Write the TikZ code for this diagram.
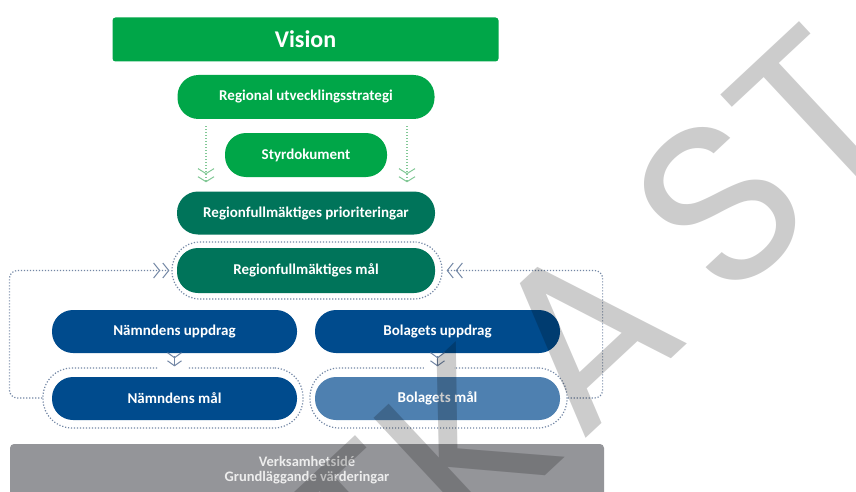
\documentclass[tikz,border=0pt]{standalone}
\usepackage{fontspec}
\setmainfont{Carlito}
\newfontfamily\wmfont{Poppins}
\usetikzlibrary{arrows.meta,fit}

\definecolor{visiongreen}{RGB}{0,166,72}
\definecolor{rfteal}{RGB}{0,116,90}
\definecolor{navy}{RGB}{0,75,141}
\definecolor{lightnavy}{RGB}{78,128,176}
\definecolor{basegray}{RGB}{148,149,153}
\definecolor{dotblue}{RGB}{115,135,165}
\definecolor{dotgreen}{RGB}{130,200,150}

\begin{document}
\begin{tikzpicture}[x=1pt,y=-1pt,
  pill/.style={rounded corners=21pt, minimum height=43pt, inner sep=0pt,
    text=white, font=\bfseries\fontsize{15}{17}\selectfont},
  outline/.style={draw=dotblue, line width=1.2pt, dash pattern=on 1.2pt off 1.8pt,
    rounded corners=28pt, inner sep=0pt},
  loopline/.style={draw=dotblue, line width=1.2pt, dash pattern=on 1.2pt off 1.8pt,
    rounded corners=8pt,
    -{Straight Barb[length=6pt,width=15pt,line width=1pt,sep=2pt] Straight Barb[length=6pt,width=15pt,line width=1pt]}},
  greenline/.style={draw=dotgreen, line width=1.2pt, dash pattern=on 1.2pt off 1.8pt,
    -{Straight Barb[length=5pt,width=16pt,line width=1pt,sep=2pt] Straight Barb[length=5pt,width=16pt,line width=1pt]}},
  downchev/.style={draw=dotblue, line width=1pt,
    -{Straight Barb[length=5pt,width=14pt,sep=2pt] Straight Barb[length=5pt,width=14pt]}}]

  \useasboundingbox[fill=white] (0,0) rectangle (856,492);

  % Vision
  \node[fill=visiongreen, rounded corners=3pt, minimum width=386pt, minimum height=44pt,
    inner sep=0pt, text=white, font=\bfseries\fontsize{24}{26}\selectfont] (vision) at (305.5,39.5) {Vision};

  % Strategy and documents
  \node[pill, fill=visiongreen, minimum width=257pt, minimum height=44pt] (rus) at (306,97) {Regional utvecklingsstrategi};
  \node[pill, fill=visiongreen, minimum width=162pt, minimum height=44pt] (styr) at (306,155) {Styrdokument};

  % Regionfullmäktige
  \node[pill, fill=rfteal, minimum width=258pt] (rfp) at (306,213) {Regionfullmäktiges prioriteringar};
  \node[pill, fill=rfteal, minimum width=258pt, minimum height=45pt] (rfm) at (306,270.5) {Regionfullmäktiges mål};
  \node[outline, minimum width=270pt, minimum height=57pt] (rfmo) at (307,270.5) {};

  % Nämnd and bolag
  \node[pill, fill=navy, minimum width=245pt] (nu) at (174.5,331.5) {Nämndens uppdrag};
  \node[pill, fill=navy, minimum width=245pt] (bu) at (437.5,331.5) {Bolagets uppdrag};
  \node[pill, fill=navy, minimum width=245pt] (nm) at (174.5,398.5) {Nämndens mål};
  \node[pill, fill=lightnavy, minimum width=245pt] (bm) at (437.5,398.5) {Bolagets mål};
  \node[outline, rounded corners=29pt, minimum width=260pt, minimum height=60pt] (nmo) at (173,398) {};
  \node[outline, rounded corners=29pt, minimum width=257pt, minimum height=60pt] (bmo) at (438.5,398) {};

  % Base
  \node[fill=basegray, rounded corners=4pt, minimum width=594pt, minimum height=52pt, inner sep=0pt,
    text=white!93!black, align=center, font=\bfseries\fontsize{14.5}{15.5}\selectfont] (base) at (307,470)
    {Verksamhetsidé\\Grundläggande värderingar};

  % Green arrows
  \draw[greenline, shorten <=7pt, shorten >=9pt] ([xshift=-100pt]rus.south) -- ([xshift=-100pt]rfp.north);
  \draw[greenline, shorten <=7pt, shorten >=9pt] ([xshift=101pt]rus.south) -- ([xshift=101pt]rfp.north);

  % Down chevrons
  \fill[white] ([xshift=-15pt,yshift=-2pt]nmo.north) rectangle ([xshift=15pt,yshift=2pt]nmo.north);
  \fill[white] ([xshift=-15pt,yshift=-2pt]bmo.north) rectangle ([xshift=15pt,yshift=2pt]bmo.north);
  \draw[downchev, shorten <=3pt] (nu.south) -- ([yshift=1pt]nu.south |- nmo.north);
  \draw[downchev, shorten <=3pt] (bu.south) -- ([yshift=1pt]bu.south |- bmo.north);

  % Feedback loops
  \draw[loopline, shorten >=2pt] (nmo.west) -- ++(-33,0) |- (rfmo.west);
  \draw[loopline, shorten >=4pt] (bmo.east) -- ++(35,0) |- (rfmo.east);

  % Watermark
  \node[text=black, text opacity=0.2, rotate=43, anchor=base east, inner sep=0pt,
    font=\wmfont\fontsize{228}{228}\selectfont] (utkast) at (914,132) {UTK\kern15ptA\kern45ptST};
\end{tikzpicture}
\end{document}
